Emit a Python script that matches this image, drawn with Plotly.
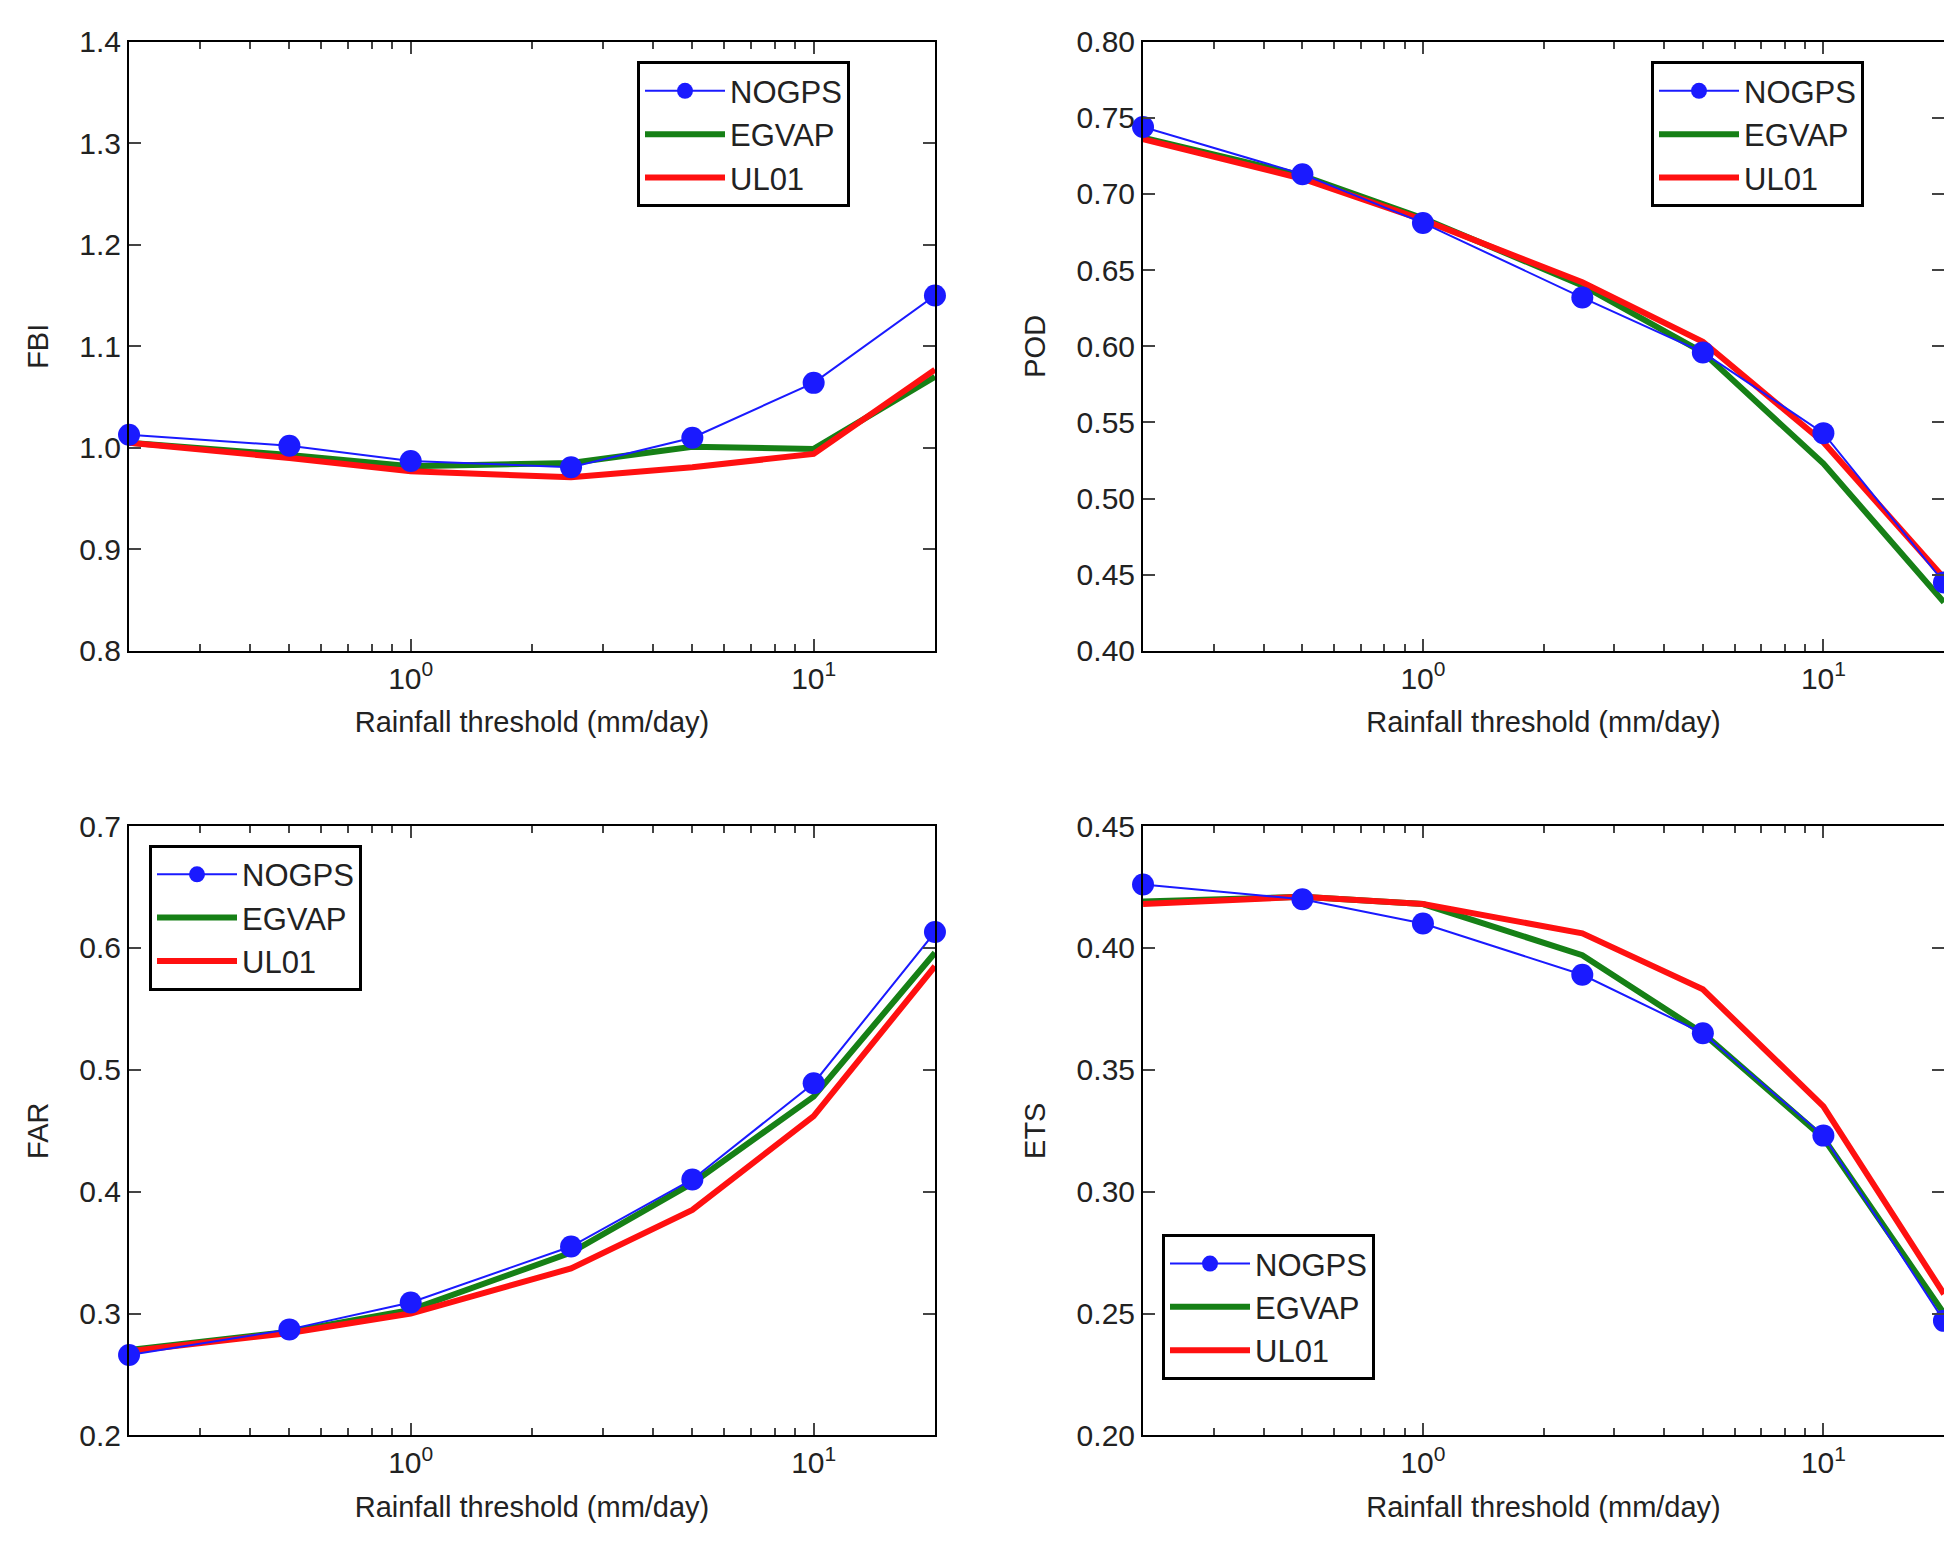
import math
import plotly.graph_objects as go

# Rainfall thresholds (mm/day)
thresholds = [0.2, 0.5, 1, 2.5, 5, 10, 20]

fbi_nogps = [1.013, 1.002, 0.987, 0.981, 1.010, 1.064, 1.150]
fbi_egvap = [1.005, 0.993, 0.982, 0.985, 1.001, 0.999, 1.070]
fbi_ul01 = [1.005, 0.990, 0.977, 0.971, 0.981, 0.994, 1.077]

pod_nogps = [0.744, 0.713, 0.681, 0.632, 0.596, 0.543, 0.445]
pod_egvap = [0.737, 0.712, 0.684, 0.640, 0.596, 0.523, 0.432]
pod_ul01 = [0.736, 0.710, 0.683, 0.642, 0.603, 0.537, 0.448]

far_nogps = [0.266, 0.287, 0.309, 0.355, 0.410, 0.489, 0.613]
far_egvap = [0.270, 0.285, 0.303, 0.350, 0.407, 0.478, 0.596]
far_ul01 = [0.269, 0.284, 0.300, 0.337, 0.385, 0.462, 0.585]

ets_nogps = [0.426, 0.420, 0.410, 0.389, 0.365, 0.323, 0.247]
ets_egvap = [0.419, 0.421, 0.418, 0.397, 0.365, 0.322, 0.250]
ets_ul01 = [0.418, 0.421, 0.418, 0.406, 0.383, 0.335, 0.258]

panels = [
    ("FBI", fbi_nogps, fbi_egvap, fbi_ul01, [0.8, 1.4], 0.1, ".1f"),
    ("POD", pod_nogps, pod_egvap, pod_ul01, [0.40, 0.80], 0.05, ".2f"),
    ("FAR", far_nogps, far_egvap, far_ul01, [0.2, 0.7], 0.1, ".1f"),
    ("ETS", ets_nogps, ets_egvap, ets_ul01, [0.20, 0.45], 0.05, ".2f"),
]

W, H = 1952, 1552
xdom = [[121 / W, 927 / W], [1135 / W, 1936 / W]]
ydom = [[1 - 640 / H, 1 - 17 / H], [1 - 1442 / H, 1 - 819 / H]]
# legend top-left corners (pixels)
leg_pos = [(629, 37), (1643, 37), (141, 838), (1154, 1236)]

fig = go.Figure()
minor_vals = [0.2, 0.3, 0.4, 0.5, 0.6, 0.7, 0.8, 0.9, 2, 3, 4, 5, 6, 7, 8, 9, 20]
xrange = [math.log10(0.2) - 1e-4, math.log10(20) + 1e-4]

for i, (name, nogps, egvap, ul01, yr, dt, fmt) in enumerate(panels):
    n = i + 1
    xa = "x" if n == 1 else f"x{n}"
    ya = "y" if n == 1 else f"y{n}"
    lg = "legend" if n == 1 else f"legend{n}"
    fig.add_trace(go.Scatter(x=thresholds, y=egvap, mode="lines", name="EGVAP",
                             line=dict(color="#168016", width=6), xaxis=xa, yaxis=ya, legend=lg, legendrank=2))
    fig.add_trace(go.Scatter(x=thresholds, y=ul01, mode="lines", name="UL01",
                             line=dict(color="#ff1010", width=6), xaxis=xa, yaxis=ya, legend=lg, legendrank=3))
    fig.add_trace(go.Scatter(x=thresholds, y=nogps, mode="lines+markers", name="NOGPS",
                             line=dict(color="#1a1aff", width=2),
                             marker=dict(color="#1a1aff", size=22), xaxis=xa, yaxis=ya, legend=lg,
                             legendrank=1, cliponaxis=False))

    r, c = i // 2, i % 2
    axis_common = dict(showline=True, linecolor="black", linewidth=2, mirror="ticks",
                       ticks="inside", ticklen=12, tickwidth=2, tickcolor="#444",
                       showgrid=False, zeroline=False, tickfont=dict(size=30, color="#222"))
    fig.layout[f"xaxis{'' if n == 1 else n}"] = dict(
        axis_common, type="log", range=xrange, domain=xdom[c], anchor=ya,
        tickvals=[1, 10], ticktext=["10<sup>0</sup>", "10<sup>1</sup>"],
        minor=dict(ticks="inside", ticklen=7, tickcolor="#444", tickvals=minor_vals),
        title=dict(text="Rainfall threshold (mm/day)", font=dict(size=29, color="#222"), standoff=18))
    fig.layout[f"yaxis{'' if n == 1 else n}"] = dict(
        axis_common, range=yr, dtick=dt, tickformat=fmt, domain=ydom[r], anchor=xa,
        title=dict(text=name, font=dict(size=29, color="#222"), standoff=22))
    lx, ly = leg_pos[i]
    fig.layout[lg] = dict(x=lx / W, y=1 - ly / H, xanchor="left", yanchor="top",
                          bordercolor="black", borderwidth=3, bgcolor="white",
                          font=dict(size=31, color="#222"), itemwidth=80,
                          tracegroupgap=24, traceorder="normal")

fig.update_layout(width=W, height=H, margin=dict(l=0, r=0, t=0, b=0),
                  plot_bgcolor="white", paper_bgcolor="white",
                  font=dict(family="Liberation Sans, Arial, sans-serif"))

fig.write_html("out.html")
